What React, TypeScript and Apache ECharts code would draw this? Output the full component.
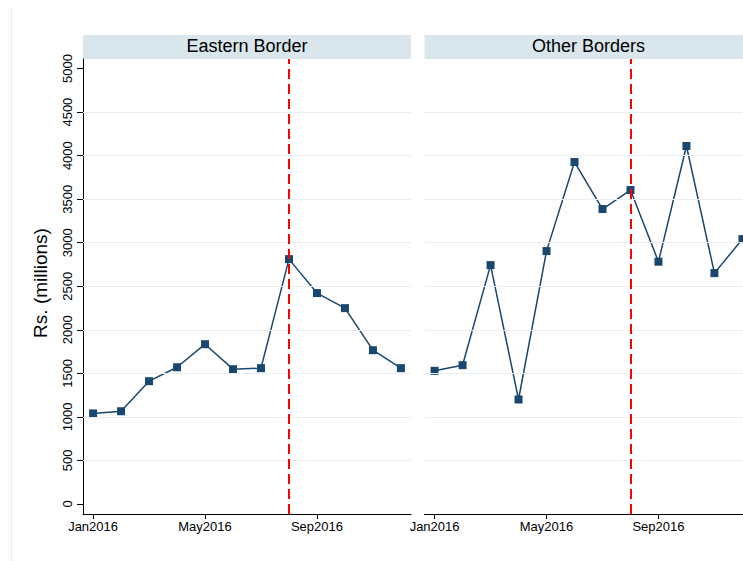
import React, { useEffect, useRef } from "react";
import * as echarts from "echarts";

// Month index (0 = Jan2016 ... 11 = Dec2016)
const monthIndex = [0, 1, 2, 3, 4, 5, 6, 7, 8, 9, 10, 11];
const easternBorder = [1040, 1065, 1410, 1570, 1835, 1548, 1560, 2812, 2422, 2249, 1766, 1560];
const otherBorders = [1529, 1594, 2743, 1200, 2904, 3927, 3387, 3605, 2782, 4111, 2651, 3042];
const xTickValues = [0, 4, 8];
const xTickLabels = ["Jan2016", "May2016", "Sep2016"];
const yTickValues = [0, 500, 1000, 1500, 2000, 2500, 3000, 3500, 4000, 4500, 5000];
const gridLineValues = [500, 1000, 1500, 2000, 2500, 3000, 3500, 4000, 4500];
const panelTitles = ["Eastern Border", "Other Borders"];
const eventMonth = 7; // Aug2016
const yTitle = "Rs. (millions)";

const FONT = "'Liberation Sans', Arial, Helvetica, sans-serif";
const NAVY = "#1A476F";
const GRID_COLOR = "#E8EFF2";
const HEADER_FILL = "#D9E6EB";

export default function App() {
  const ref = useRef<HTMLDivElement>(null);

  useEffect(() => {
    if (!ref.current) return;
    const chart = echarts.init(ref.current, undefined, { renderer: "svg" });

    const grids = [
      { left: 83, top: 59, width: 328, height: 455 },
      { left: 424.5, top: 59, width: 328, height: 455 },
    ];
    const panels = [easternBorder, otherBorders];

    const xAxis = grids.map((_, i) => ({
      type: "value",
      gridIndex: i,
      min: -0.36,
      max: 11.36,
      axisLine: { show: true, onZero: false, lineStyle: { color: "#000", width: 1 } },
      axisTick: { show: true, length: 5, customValues: xTickValues, lineStyle: { color: "#000", width: 1 } },
      axisLabel: {
        show: true,
        customValues: xTickValues,
        formatter: (v: number) => {
          const k = xTickValues.indexOf(Math.round(v));
          return k >= 0 ? xTickLabels[k] : "";
        },
        fontSize: 13,
        fontFamily: FONT,
        color: "#000",
        margin: 6,
      },
      splitLine: { show: false },
    }));

    const yAxis = grids.map((_, i) => ({
      type: "value",
      gridIndex: i,
      min: -115,
      max: 5110,
      axisLine: { show: i === 0, onZero: false, lineStyle: { color: "#000", width: 1 } },
      axisTick: { show: i === 0, length: 6, customValues: yTickValues, lineStyle: { color: "#000", width: 1 } },
      axisLabel: {
        show: i === 0,
        customValues: yTickValues,
        formatter: (v: number) => String(Math.round(v)),
        rotate: 90,
        fontSize: 13,
        fontFamily: FONT,
        color: "#000",
        margin: 9,
      },
      splitLine: { show: false },
    }));

    const series: any[] = [];
    panels.forEach((vals, i) => {
      const data = monthIndex.map((m, k) => [m, vals[k]]);
      series.push({
        type: "line",
        xAxisIndex: i,
        yAxisIndex: i,
        data,
        symbol: "none",
        silent: true,
        lineStyle: { opacity: 0 },
        z: 1,
        markLine: {
          silent: true,
          symbol: "none",
          label: { show: false },
          lineStyle: { color: GRID_COLOR, width: 1, type: "solid" },
          data: gridLineValues.map((v) => ({ yAxis: v })),
        },
      });
      series.push({
        type: "line",
        xAxisIndex: i,
        yAxisIndex: i,
        data,
        symbol: "none",
        silent: true,
        lineStyle: { opacity: 0 },
        z: 2,
        markLine: {
          silent: true,
          symbol: "none",
          label: { show: false },
          lineStyle: { color: "#FF0000", width: 2, type: [10, 5] },
          data: [{ xAxis: eventMonth }],
        },
      });
      series.push({
        type: "line",
        name: panelTitles[i],
        xAxisIndex: i,
        yAxisIndex: i,
        data,
        symbol: "rect",
        symbolSize: 8,
        showSymbol: true,
        lineStyle: { color: NAVY, width: 1.5 },
        itemStyle: { color: NAVY },
        z: 3,
      });
    });

    const graphic: any[] = [
      {
        type: "line",
        shape: { x1: 11.5, y1: 8, x2: 11.5, y2: 561 },
        style: { stroke: "#E3EDF2", lineWidth: 1 },
        silent: true,
      },
    ];
    grids.forEach((g, i) => {
      graphic.push({
        type: "rect",
        shape: { x: g.left, y: 35, width: g.width, height: 24 },
        style: { fill: HEADER_FILL },
        silent: true,
        z: 0,
      });
      graphic.push({
        type: "text",
        x: g.left + g.width / 2,
        y: 46,
        style: {
          text: panelTitles[i],
          fontSize: 18,
          fontFamily: FONT,
          fill: "#000",
          textAlign: "center",
          textVerticalAlign: "middle",
        },
        silent: true,
        z: 1,
      });
    });
    graphic.push({
      type: "text",
      x: 40,
      y: 283,
      rotation: Math.PI / 2,
      style: {
        text: yTitle,
        fontSize: 19,
        fontFamily: FONT,
        fill: "#000",
        textAlign: "center",
        textVerticalAlign: "middle",
      },
      silent: true,
    });

    chart.setOption({
      animation: false,
      backgroundColor: "#FFFFFF",
      grid: grids,
      xAxis,
      yAxis,
      series,
      graphic,
    });

    return () => chart.dispose();
  }, []);

  return (
    <div
      style={{
        position: "fixed",
        left: 0,
        top: 0,
        width: 743,
        height: 561,
        overflow: "hidden",
        background: "#fff",
      }}
    >
      <div ref={ref} style={{ width: 780, height: 561 }} />
    </div>
  );
}
